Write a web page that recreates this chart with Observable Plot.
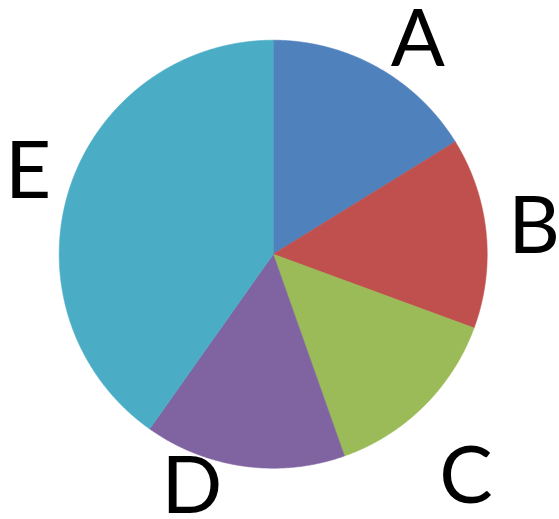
<!DOCTYPE html>
<html>
<head>
<meta charset="utf-8">
<script src="https://cdn.jsdelivr.net/npm/d3@7"></script>
<script src="https://cdn.jsdelivr.net/npm/@observablehq/plot@0.6"></script>
<style>
  html, body { margin: 0; padding: 0; background: #fff; }
</style>
</head>
<body>
<div id="chart"></div>
<script>
// ---- data ----
const categories = ["A", "B", "C", "D", "E"];
const values = [16.2, 14.4, 14.0, 15.2, 40.2];
const colors = ["#4F81BD", "#C0504D", "#9BBB59", "#8064A2", "#4BACC6"];

// ---- layout ----
const W = 559, H = 519;
const cx = 272.7, cy = 253.7, R = 214;   // pie centre / radius in px
const labelRadius = 1.2;                  // in units of R
const labelNudge = [[19.4, 10.1], [5.3, -1.0], [12.3, 40.6], [-45.8, -20.8], [-0.3, -3.9]]; // px

const arcs = d3.pie().sort(null).value(d => d.value)(
  categories.map((c, i) => ({label: c, value: values[i], color: colors[i]}))
);

const step = Math.PI / 720;
const polys = [];
arcs.forEach(a => {
  polys.push({label: a.data.label, color: a.data.color, x: 0, y: 0});
  const n = Math.max(2, Math.ceil((a.endAngle - a.startAngle) / step));
  for (let k = 0; k <= n; k++) {
    const t = a.startAngle + (a.endAngle - a.startAngle) * k / n;
    polys.push({label: a.data.label, color: a.data.color, x: Math.sin(t), y: Math.cos(t)});
  }
  polys.push({label: a.data.label, color: a.data.color, x: 0, y: 0});
});

const labels = arcs.map((a, i) => {
  const m = (a.startAngle + a.endAngle) / 2;
  return {
    label: a.data.label,
    x: Math.sin(m) * labelRadius + labelNudge[i][0] / R,
    y: Math.cos(m) * labelRadius - labelNudge[i][1] / R
  };
});

const chart = Plot.plot({
  width: W,
  height: H,
  margin: 0,
  x: {domain: [-cx / R, (W - cx) / R], range: [0, W], axis: null},
  y: {domain: [-(H - cy) / R, cy / R], range: [H, 0], axis: null},
  style: {background: "#fff"},
  marks: [
    Plot.line(polys, {x: "x", y: "y", z: "label", fill: "color", stroke: "color", strokeWidth: 0.6, curve: "linear"}),
    Plot.text(labels, {x: "x", y: "y", text: "label", fill: "#000", fontSize: 80,
      fontFamily: "Lato, 'Open Sans', sans-serif", textAnchor: "middle", lineAnchor: "middle"})
  ]
});
document.getElementById("chart").appendChild(chart);
</script>
</body>
</html>
